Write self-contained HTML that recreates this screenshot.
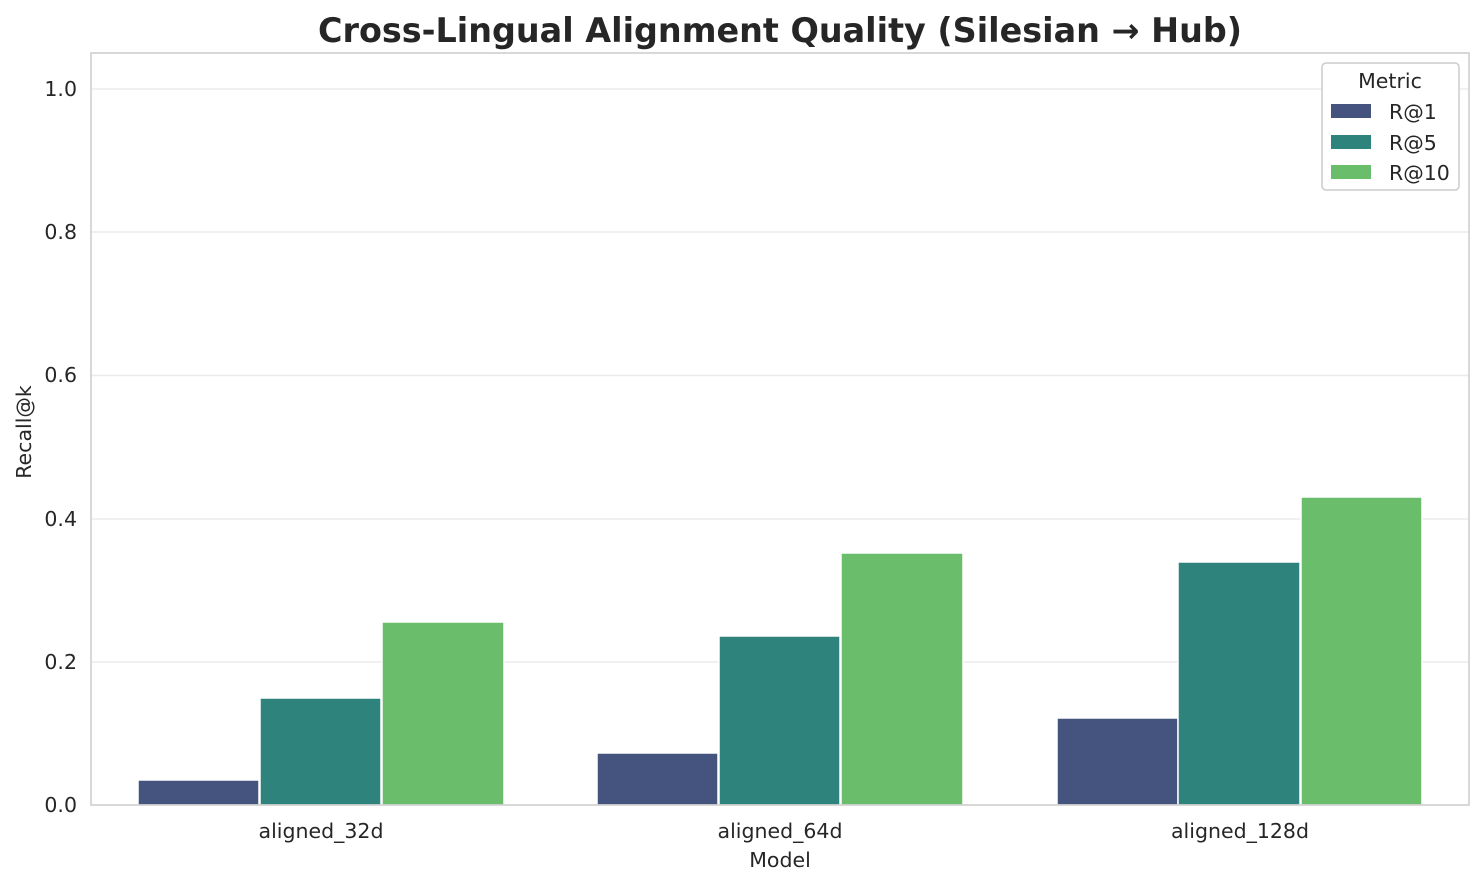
<!DOCTYPE html>
<html><head><meta charset="utf-8"><style>html,body{margin:0;padding:0;background:#fff}</style></head>
<body>
<svg width="1484" height="885" viewBox="0 0 1484 885" xmlns="http://www.w3.org/2000/svg" font-family="'DejaVu Sans',sans-serif" fill="#262626">
<rect width="1484" height="885" fill="#fff"/>
<g stroke="#ebebeb" stroke-width="1.5">
<line x1="91" x2="1469" y1="89" y2="89"/>
<line x1="91" x2="1469" y1="232" y2="232"/>
<line x1="91" x2="1469" y1="375.5" y2="375.5"/>
<line x1="91" x2="1469" y1="519" y2="519"/>
<line x1="91" x2="1469" y1="662" y2="662"/>
</g>
<g stroke="#fff" stroke-width="1.5">
<rect x="138" y="780" width="121" height="25" fill="#45547f"/>
<rect x="260" y="698" width="121" height="107" fill="#2e837c"/>
<rect x="382" y="622" width="122" height="183" fill="#6abd6b"/>
<rect x="597" y="753" width="121" height="52" fill="#45547f"/>
<rect x="719" y="636" width="121" height="169" fill="#2e837c"/>
<rect x="841" y="553" width="122" height="252" fill="#6abd6b"/>
<rect x="1057" y="718" width="121" height="87" fill="#45547f"/>
<rect x="1178" y="562" width="122" height="243" fill="#2e837c"/>
<rect x="1301" y="497" width="121" height="308" fill="#6abd6b"/>
</g>
<rect x="91" y="53" width="1378" height="752" fill="none" stroke="#cccccc" stroke-width="1.5"/>
<g font-size="20.5" text-anchor="end">
<text x="77" y="812">0.0</text>
<text x="77" y="669">0.2</text>
<text x="77" y="526">0.4</text>
<text x="77" y="382">0.6</text>
<text x="77" y="239">0.8</text>
<text x="77" y="96">1.0</text>
</g>
<g font-size="20.5" text-anchor="middle">
<text x="321" y="838">aligned_32d</text>
<text x="780" y="838">aligned_64d</text>
<text x="1240" y="838">aligned_128d</text>
<text x="780" y="867">Model</text>
</g>
<text transform="translate(31,432) rotate(-90)" font-size="20.5" text-anchor="middle">Recall@k</text>
<text x="780" y="42" font-size="33.4" font-weight="bold" text-anchor="middle">Cross-Lingual Alignment Quality (Silesian → Hub)</text>
<rect x="1322" y="63" width="137" height="127" rx="4" fill="#fff" stroke="#cccccc" stroke-width="1.5"/>
<text x="1390" y="88" font-size="20.5" text-anchor="middle">Metric</text>
<rect x="1331" y="104" width="40" height="14" fill="#45547f"/>
<rect x="1331" y="135" width="40" height="14" fill="#2e837c"/>
<rect x="1331" y="165" width="40" height="14" fill="#6abd6b"/>
<g font-size="20.5">
<text x="1389" y="119">R@1</text>
<text x="1389" y="150">R@5</text>
<text x="1389" y="180">R@10</text>
</g>
</svg>
</body></html>
